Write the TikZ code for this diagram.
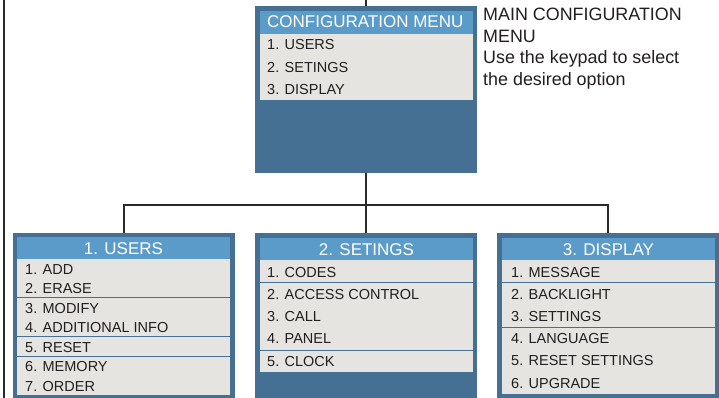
\documentclass[tikz,border=0pt]{standalone}
\usepackage{fontspec}
\setmainfont{Liberation Sans}
\definecolor{dblue}{HTML}{456F93}
\definecolor{hblue}{HTML}{5B9BCA}
\definecolor{lgray}{HTML}{E5E4E0}
\definecolor{txt}{HTML}{231F20}
\definecolor{wirec}{HTML}{2A2A2A}
\tikzset{
  panel/.style={fill=dblue, inner sep=0pt, draw=none, rectangle},
  hdrfill/.style={fill=hblue},
  bodyfill/.style={fill=lgray},
  item/.style={anchor=base west, inner sep=0pt, font=\fontsize{14.5}{14.5}\selectfont, text=txt},
  htext/.style={anchor=base, inner sep=0pt, font=\fontsize{17}{17}\selectfont, text=white},
  side/.style={anchor=base west, inner sep=0pt, font=\fontsize{17.9}{17.9}\selectfont, text=txt},
  sepline/.style={draw=dblue, line width=1pt},
  wire/.style={draw=wirec, line width=2pt}
}
\begin{document}
\begin{tikzpicture}[x=1pt,y=-1pt]
\useasboundingbox (0,0) rectangle (719,398);
\fill[white] (0,0) rectangle (719,398);

% left line
\coordinate (lt) at (3.5,0);
\coordinate (lb) at (3.5,398);
\draw[wire] (lt) -- (lb);

% main menu
\node[panel, minimum width=222pt, minimum height=167pt] (main) at (366,89.5) {};
\fill[hdrfill] (259.5,11) rectangle (472.5,34);
\fill[bodyfill] (259.5,34) rectangle (472.5,100);
\node[anchor=base west, inner sep=0pt, font=\fontsize{17}{17}\selectfont, text=white] (mh) at (267,28) {CONFIGURATION MENU};
\node[item] (m1) at (267,50) {1. USERS};
\node[item] (m2) at (267,72.5) {2. SETINGS};
\node[item] (m3) at (267,95) {3. DISPLAY};

% side text
\node[side] (s1) at (483,20.7) {MAIN CONFIGURATION};
\node[side] (s2) at (483,42.3) {MENU};
\node[side] (s3) at (483,63.8) {Use the keypad to select};
\node[side] (s4) at (483,85.3) {the desired option};

% users
\node[panel, minimum width=222pt, minimum height=165pt] (users) at (124,315.5) {};
\fill[hdrfill] (17,237) rectangle (230,259);
\fill[bodyfill] (17,259) rectangle (230,395);
\node[htext] (uh) at (123.5,254) {1. USERS};
\node[item] (u1) at (25,274) {1. ADD};
\node[item] (u2) at (25,293.5) {2. ERASE};
\node[item] (u3) at (25,313) {3. MODIFY};
\node[item] (u4) at (25,332.5) {4. ADDITIONAL INFO};
\node[item] (u5) at (25,352) {5. RESET};
\node[item] (u6) at (25,371.5) {6. MEMORY};
\node[item] (u7) at (25,391) {7. ORDER};
\draw[sepline] (17,297) -- (230,297);
\draw[sepline] (17,336) -- (230,336);
\draw[sepline] (17,356) -- (230,356);

% settings
\node[panel, minimum width=222pt, minimum height=165pt] (sett) at (366,315.5) {};
\fill[hdrfill] (260,238) rectangle (473,260);
\fill[bodyfill] (260,260) rectangle (473,372);
\node[htext] (sh) at (366.5,255.5) {2. SETINGS};
\node[item] (t1) at (267,277) {1. CODES};
\node[item] (t2) at (267,299.25) {2. ACCESS CONTROL};
\node[item] (t3) at (267,321.5) {3. CALL};
\node[item] (t4) at (267,343.75) {4. PANEL};
\node[item] (t5) at (267,366) {5. CLOCK};
\draw[sepline] (260,282) -- (473,282);
\draw[sepline] (260,350) -- (473,350);

% display
\node[panel, minimum width=222pt, minimum height=165pt] (disp) at (608,315.5) {};
\fill[hdrfill] (502,238) rectangle (715,260);
\fill[bodyfill] (502,260) rectangle (715,394);
\node[htext] (dh) at (608.5,255.5) {3. DISPLAY};
\node[item] (d1) at (511,277) {1. MESSAGE};
\node[item] (d2) at (511,299.2) {2. BACKLIGHT};
\node[item] (d3) at (511,321.4) {3. SETTINGS};
\node[item] (d4) at (511,343.6) {4. LANGUAGE};
\node[item] (d5) at (511,365.8) {5. RESET SETTINGS};
\node[item] (d6) at (511,388) {6. UPGRADE};
\draw[sepline] (502,282) -- (715,282);
\draw[sepline] (502,327) -- (715,327);

% connectors
\coordinate (topend) at (366,0);
\coordinate (bar) at (366,205);
\draw[wire] (topend) -- (main.north);
\draw[wire] (main.south) -- (sett.north);
\draw[wire] (users.north) |- (bar) -| (disp.north);
\end{tikzpicture}
\end{document}
